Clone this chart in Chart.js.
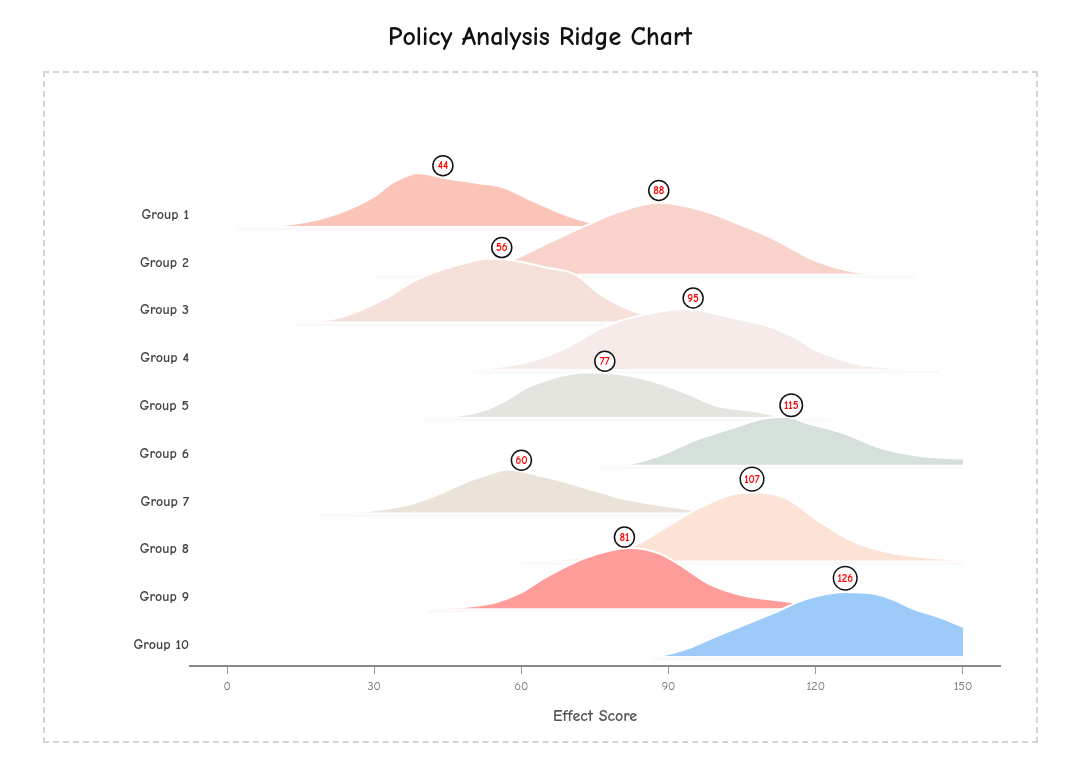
<!DOCTYPE html>
<html lang="en">
<head>
<meta charset="UTF-8">
<title>Policy Analysis Ridge Chart</title>
<script src="https://cdn.jsdelivr.net/npm/chart.js"></script>
<style>
  body { margin: 0; background: #fff; }
  .wrap { position: relative; width: 1080px; height: 760px; }
  .frame {
    position: absolute; left: 43px; top: 71px; width: 995px; height: 672px;
    box-sizing: border-box; border: 2px dashed #d4d4d4;
  }
  #ridge { position: absolute; left: 0; top: 0; }
</style>
</head>
<body>
<div class="wrap">
  <div class="frame"></div>
  <canvas id="ridge" width="1080" height="760"></canvas>
</div>
<script>
const groups = ['Group 1', 'Group 2', 'Group 3', 'Group 4', 'Group 5', 'Group 6', 'Group 7', 'Group 8', 'Group 9', 'Group 10'];
const peakLabels = [44, 88, 56, 95, 77, 115, 60, 107, 81, 126];
const colors = ['#fbc4b8', '#f9d3cb', '#f6e0da', '#f5ebe8', '#e5e5e0', '#d5e0da', '#ebe3d9', '#fde3d6', '#fe9c9a', '#9ccbf9'];
const xTicks = [0, 30, 60, 90, 120, 150];

// density curves: x positions and ridge heights (in row units)
const g1X = [2, 10, 17, 25, 30, 34, 39, 44, 51, 56, 62, 68, 74, 80, 86];
const g1H = [0, 0.01, 0.10, 0.36, 0.62, 0.92, 1.11, 1.01, 0.90, 0.82, 0.54, 0.27, 0.08, 0.02, 0];
const g2X = [30, 40, 48, 58, 66, 73, 80, 88, 97, 104, 111, 120, 130, 140];
const g2H = [0, 0.02, 0.08, 0.29, 0.67, 1.00, 1.30, 1.49, 1.32, 1.05, 0.75, 0.27, 0.02, 0];
const g3X = [14, 18, 22, 27, 33, 38, 44, 49, 53, 58, 65, 71, 76, 82, 86, 92, 100];
const g3H = [0, 0.01, 0.06, 0.23, 0.52, 0.84, 1.09, 1.23, 1.32, 1.28, 1.13, 0.98, 0.57, 0.25, 0.13, 0.04, 0];
const g4X = [50, 55, 62, 67, 71, 75, 80, 87, 93, 97, 102, 111, 116, 120, 125, 129, 134, 140, 145];
const g4H = [0, 0.04, 0.17, 0.35, 0.55, 0.79, 1.01, 1.18, 1.26, 1.22, 1.10, 0.88, 0.65, 0.40, 0.21, 0.10, 0.04, 0, 0];
const g5X = [40, 45, 52, 57, 61, 68, 73, 80, 88, 94, 100, 107, 112, 118, 123];
const g5H = [0, 0.01, 0.13, 0.36, 0.61, 0.86, 0.94, 0.90, 0.71, 0.48, 0.23, 0.13, 0.04, 0.01, 0];
const g6X = [76, 81, 88, 95, 103, 110, 114, 118, 126, 133, 141, 150];
const g6H = [0, 0.01, 0.19, 0.50, 0.77, 0.98, 1.00, 0.88, 0.65, 0.36, 0.19, 0.13];
const g7X = [19, 25, 31, 37, 43, 48, 53, 57, 64, 70, 75, 80, 85, 90, 95, 102, 110];
const g7H = [0, 0.01, 0.06, 0.17, 0.38, 0.61, 0.79, 0.90, 0.77, 0.61, 0.46, 0.31, 0.21, 0.13, 0.06, 0.02, 0];
const g8X = [60, 66, 75, 80, 84, 90, 96, 103, 108, 114, 121, 128, 134, 139, 145, 150];
const g8H = [0, 0.01, 0.08, 0.19, 0.36, 0.73, 1.09, 1.38, 1.42, 1.30, 0.79, 0.38, 0.19, 0.10, 0.04, 0.02];
const g9X = [41, 45, 50, 55, 60, 65, 73, 82, 88, 93, 98, 105, 110, 115, 122, 130];
const g9H = [0, 0.01, 0.04, 0.13, 0.33, 0.65, 1.05, 1.26, 1.15, 0.86, 0.52, 0.27, 0.19, 0.13, 0.04, 0];
const g10X = [87, 89, 94, 99, 105, 111, 118, 126, 132, 136, 140, 145, 150];
const g10H = [0, 0.02, 0.16, 0.38, 0.63, 0.88, 1.19, 1.34, 1.30, 1.17, 0.98, 0.82, 0.61];

const xsList = [g1X, g2X, g3X, g4X, g5X, g6X, g7X, g8X, g9X, g10X];
const hsList = [g1H, g2H, g3H, g4H, g5H, g6H, g7H, g8H, g9H, g10H];

const FONT = '"Comic Sans MS", "Comic Neue", Lato, sans-serif';
const n = groups.length;

function heightAt(xs, hs, v) {
    for (let k = 0; k < xs.length - 1; k++) {
        if (v >= xs[k] && v <= xs[k + 1]) {
            const t = (v - xs[k]) / (xs[k + 1] - xs[k]);
            return hs[k] + t * (hs[k + 1] - hs[k]);
        }
    }
    return 0;
}

const datasets = groups.map((name, i) => ({
    label: name,
    data: xsList[i].map((x, k) => ({ x: x, y: (n - 1 - i) + hsList[i][k] })),
    backgroundColor: colors[i],
    borderColor: '#ffffff',
    borderWidth: 2,
    fill: { value: n - 1 - i },
    pointRadius: 0,
    cubicInterpolationMode: 'monotone',
    order: n - i
}));

// soft grey shadow under each ridge baseline
const ridgeShadow = {
    id: 'ridgeShadow',
    beforeDatasetsDraw(chart) {
        const { ctx, scales: { x, y } } = chart;
        chart.data.datasets.forEach((ds) => {
            const base = y.getPixelForValue(ds.fill.value);
            const x0 = x.getPixelForValue(ds.data[0].x);
            const x1 = x.getPixelForValue(ds.data[ds.data.length - 1].x);
            ctx.save();
            ctx.strokeStyle = 'rgba(0,0,0,0.025)';
            ctx.lineWidth = 3;
            ctx.shadowColor = 'rgba(0,0,0,0.07)';
            ctx.shadowBlur = 5;
            ctx.beginPath();
            ctx.moveTo(x0, base + 3);
            ctx.lineTo(x1, base + 3);
            ctx.stroke();
            ctx.restore();
        });
    }
};

// circled peak values
const peakBadges = {
    id: 'peakBadges',
    afterDatasetsDraw(chart) {
        const { ctx, scales: { x, y } } = chart;
        ctx.save();
        ctx.font = 'bold 11px ' + FONT;
        ctx.textAlign = 'center';
        ctx.textBaseline = 'middle';
        peakLabels.forEach((pv, i) => {
            const h = heightAt(xsList[i], hsList[i], pv);
            const px = x.getPixelForValue(pv);
            const py = y.getPixelForValue(n - 1 - i + h);
            const txt = String(pv);
            const r = Math.max(10, ctx.measureText(txt).width / 2 + 4);
            const cy = py - r - 2;
            ctx.beginPath();
            ctx.arc(px, cy, r, 0, Math.PI * 2);
            ctx.fillStyle = '#ffffff';
            ctx.fill();
            ctx.lineWidth = 1.5;
            ctx.strokeStyle = '#111';
            ctx.stroke();
            ctx.fillStyle = '#ff0000';
            ctx.fillText(txt, px, cy + 0.5);
        });
        ctx.restore();
    }
};

new Chart(document.getElementById('ridge'), {
    type: 'line',
    data: { datasets: datasets },
    options: {
        responsive: false,
        animation: false,
        layout: { padding: { left: 80, right: 80, top: 0, bottom: 0 } },
        plugins: {
            legend: { display: false },
            tooltip: { enabled: false },
            title: {
                display: true,
                text: 'Policy Analysis Ridge Chart',
                color: '#111',
                font: { family: FONT, size: 26, weight: 'bold' },
                padding: { top: 22, bottom: 41.8 }
            }
        },
        scales: {
            x: {
                type: 'linear',
                min: -7.55,
                max: 157.55,
                afterBuildTicks: (s) => { s.ticks = xTicks.map(v => ({ value: v })); },
                afterFit: (s) => { s.height = 94; },
                grid: { drawOnChartArea: false, drawTicks: true, tickLength: 8, color: '#999', lineWidth: 1 },
                border: { display: true, color: '#888', width: 2 },
                ticks: { padding: 5, color: '#666', maxRotation: 0, font: { family: FONT, size: 12 } },
                title: {
                    display: true,
                    text: 'Effect Score',
                    color: '#555',
                    font: { family: FONT, size: 16, weight: 'bold' },
                    padding: { top: 0, bottom: 34.4 }
                }
            },
            y: {
                type: 'linear',
                min: -0.21,
                max: 11.74,
                afterBuildTicks: (s) => { s.ticks = groups.map((g, i) => ({ value: n - 1 - i })); },
                afterFit: (s) => { s.width = 110; },
                grid: { display: false, drawTicks: false },
                border: { display: false },
                ticks: {
                    autoSkip: false,
                    padding: 1,
                    labelOffset: -11,
                    color: '#444',
                    font: { family: FONT, size: 14, weight: 'bold' },
                    callback: (v) => groups[n - 1 - v]
                }
            }
        }
    },
    plugins: [ridgeShadow, peakBadges]
});
</script>
</body>
</html>
